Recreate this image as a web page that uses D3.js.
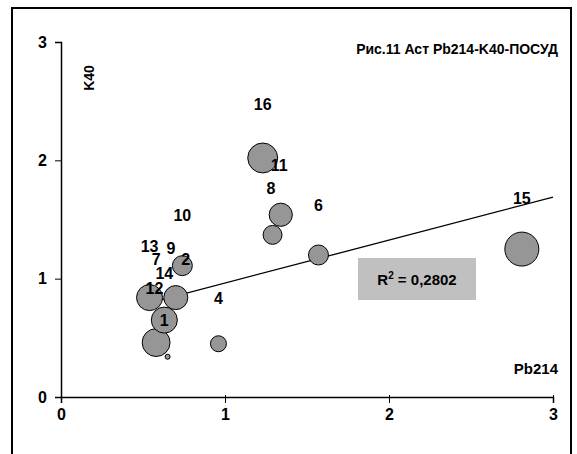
<!DOCTYPE html>
<html>
<head>
<meta charset="utf-8">
<script src="https://cdn.jsdelivr.net/npm/d3@7"></script>
<style>
body { margin: 0; background: #fff; }
text { font-family: Arial, "Liberation Sans", sans-serif; font-weight: bold; }
</style>
</head>
<body>
<div id="chart"></div>
<script>
// data
var pbX = [1.23, 1.34, 1.29, 1.57, 0.74, 0.54, 0.70, 0.63, 0.58, 0.65, 0.96, 2.81];
var k40Y = [2.02, 1.54, 1.37, 1.20, 1.11, 0.84, 0.84, 0.65, 0.46, 0.34, 0.45, 1.25];
var sizes = [2.25, 1.35, 0.9, 1.0, 1.0, 1.7, 1.45, 1.7, 1.95, 0.04, 0.64, 2.9];

var labelText = ["16", "11", "8", "6", "10", "13", "9", "2", "7", "14", "12", "1", "4", "15"];
var labelX = [1.23, 1.33, 1.28, 1.57, 0.74, 0.54, 0.67, 0.76, 0.58, 0.63, 0.57, 0.63, 0.96, 2.81];
var labelY = [2.48, 1.96, 1.77, 1.62, 1.54, 1.28, 1.26, 1.17, 1.17, 1.05, 0.92, 0.65, 0.84, 1.68];

var trendSlope = 0.363, trendIntercept = 0.60;
var trendX = [0.54, 3.0];
var xTicks = [0, 1, 2, 3], yTicks = [0, 1, 2, 3];

var svgWidth = 577, svgHeight = 454;
var svg = d3.select("#chart").append("svg")
    .attr("width", svgWidth).attr("height", svgHeight);

// outer frame
svg.append("rect")
    .attr("x", 12).attr("y", 8).attr("width", 559).attr("height", 460)
    .attr("fill", "none").attr("stroke", "#000").attr("stroke-width", 2);

var xScale = d3.scaleLinear().domain([0, 3]).range([61, 553]);
var yScale = d3.scaleLinear().domain([0, 3]).range([397, 42]);
var rScale = d3.scaleSqrt().domain([0, 2.9]).range([0, 17]);

var bottomAxis = d3.axisBottom(xScale).tickValues(xTicks).tickFormat(d3.format("d")).tickSize(6).tickPadding(6);
var leftAxis = d3.axisLeft(yScale).tickValues(yTicks).tickFormat(d3.format("d")).tickSize(6).tickPadding(8);

var gx = svg.append("g").attr("transform", "translate(0,397)").call(bottomAxis);
gx.selectAll(".tick line").attr("y1", -2);
var gy = svg.append("g").attr("transform", "translate(61,0)").call(leftAxis);
[gx, gy].forEach(function(g) {
    g.selectAll("text").style("font-size", "16px").attr("fill", "#000");
    g.select(".domain").attr("stroke-width", 1.5);
});

// trendline
svg.append("line")
    .attr("x1", xScale(trendX[0])).attr("y1", yScale(trendIntercept + trendSlope * trendX[0]))
    .attr("x2", xScale(trendX[1])).attr("y2", yScale(trendIntercept + trendSlope * trendX[1]))
    .attr("stroke", "#000").attr("stroke-width", 1.3);

// bubbles, biggest first
var idx = d3.range(pbX.length).sort(function(a, b) { return sizes[b] - sizes[a]; });
svg.selectAll("circle.b").data(idx).enter().append("circle")
    .attr("cx", function(i) { return xScale(pbX[i]); })
    .attr("cy", function(i) { return yScale(k40Y[i]); })
    .attr("r", function(i) { return Math.max(2.5, rScale(sizes[i])); })
    .attr("fill", "#969696").attr("stroke", "#000").attr("stroke-width", 1);

svg.selectAll("text.lab").data(labelText).enter().append("text")
    .attr("x", function(d, i) { return xScale(labelX[i]); })
    .attr("y", function(d, i) { return yScale(labelY[i]) + 6; })
    .attr("text-anchor", "middle").style("font-size", "16px")
    .text(function(d) { return d; });

// R² box
svg.append("rect").attr("x", 358).attr("y", 258).attr("width", 118).attr("height", 42).attr("fill", "#c0c0c0");
var r2 = svg.append("text").attr("x", 417).attr("y", 285).attr("text-anchor", "middle").style("font-size", "15px");
r2.append("tspan").text("R");
r2.append("tspan").attr("dy", -6).style("font-size", "10px").text("2");
r2.append("tspan").attr("dy", 6).text(" = 0,2802");

svg.append("text").attr("x", 558).attr("y", 54).attr("text-anchor", "end").style("font-size", "14px")
    .text("Рис.11  Аст Pb214-K40-ПОСУД");
svg.append("text").attr("x", 558).attr("y", 374).attr("text-anchor", "end").style("font-size", "15px").text("Pb214");
svg.append("text").attr("transform", "translate(94,78) rotate(-90)").attr("text-anchor", "middle")
    .style("font-size", "14px").text("K40");
</script>
</body>
</html>
